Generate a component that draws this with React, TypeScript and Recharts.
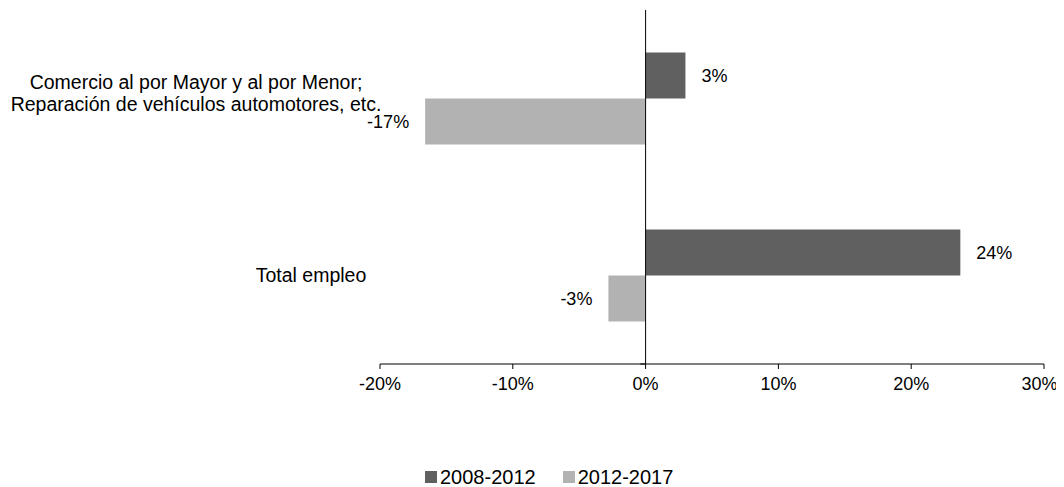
import React from 'react';
import { BarChart, Bar, XAxis, YAxis, ReferenceLine, LabelList } from 'recharts';

const categories = ['Comercio', 'Total empleo'];
const categoryLines = [
  ['Comercio al por Mayor y al por Menor;', 'Reparación de vehículos automotores, etc.'],
  ['Total empleo'],
];
const seriesNames = ['2008-2012', '2012-2017'];
const values2008_2012 = [3.0, 23.7];
const values2012_2017 = [-16.6, -2.8];
const xTicks = [-20, -10, 0, 10, 20, 30];

const COLORS = ['#606060', '#b2b2b2'];
const FONT = '"Liberation Sans", Arial, sans-serif';

const data = categories.map((c, i) => ({
  name: c,
  a: values2008_2012[i],
  b: values2012_2017[i],
}));

const labelCenters = [188, 303];
const lineOffsets = [[-10, 12], [6]];

const CatTick = (props: any) => {
  const { y, payload } = props;
  const idx = categories.indexOf(payload.value);
  const lines = categoryLines[idx] || [];
  return (
    <g>
      {lines.map((l, k) => (
        <text
          key={k}
          x={labelCenters[idx]}
          y={y + lineOffsets[idx][k]}
          textAnchor="middle"
          fontSize={19.5}
          fontFamily={FONT}
          fill="#000"
        >
          {l}
        </text>
      ))}
    </g>
  );
};

const ValueLabel = (props: any) => {
  const { x, y, width, height, value } = props;
  const left = Math.min(x, x + width);
  const right = Math.max(x, x + width);
  const neg = value < 0;
  const tx = neg ? left - 16 : right + 16;
  return (
    <text
      x={tx}
      y={y + height / 2}
      dy="0.35em"
      textAnchor={neg ? 'end' : 'start'}
      fontSize={18}
      fontFamily={FONT}
      fill="#000"
    >
      {Math.round(value)}%
    </text>
  );
};

export default function App() {
  return (
    <div style={{ position: 'relative', width: 1048, height: 479, fontFamily: FONT }}>
      <style>{`.recharts-surface { overflow: visible !important; } .recharts-wrapper { overflow: visible !important; }`}</style>
      <BarChart
        width={1048}
        height={400}
        data={data}
        layout="vertical"
        margin={{ top: 2, right: 12, bottom: 14, left: 0 }}
        barCategoryGap="24%"
        barGap={0}
      >
        <XAxis
          type="number"
          domain={[-20, 30]}
          ticks={xTicks}
          tickFormatter={(v: number) => `${v}%`}
          axisLine={{ stroke: '#000' }}
          tickLine={{ stroke: '#000' }}
          tickSize={5}
          tickMargin={8}
          height={30}
          tick={{ fill: '#000', fontSize: 18, fontFamily: FONT }}
        />
        <YAxis
          type="category"
          dataKey="name"
          width={372}
          axisLine={false}
          tickLine={false}
          tick={<CatTick />}
          interval={0}
        />
        <YAxis yAxisId="grid" type="number" domain={[0, 2]} hide />
        <Bar dataKey="a" name={seriesNames[0]} fill={COLORS[0]} isAnimationActive={false}>
          <LabelList dataKey="a" content={<ValueLabel />} />
        </Bar>
        <Bar dataKey="b" name={seriesNames[1]} fill={COLORS[1]} isAnimationActive={false}>
          <LabelList dataKey="b" content={<ValueLabel />} />
        </Bar>
        <ReferenceLine yAxisId="grid" x={0} stroke="#000" strokeWidth={1} />
        <ReferenceLine
          yAxisId="grid"
          segment={[{ x: -0.4, y: 2 }, { x: 0, y: 2 }]}
          stroke="#000"
        />
        <ReferenceLine
          yAxisId="grid"
          segment={[{ x: -0.4, y: 1 }, { x: 0, y: 1 }]}
          stroke="#000"
        />
      </BarChart>
      <div
        style={{
          position: 'absolute',
          left: 417,
          top: 459,
          display: 'flex',
          alignItems: 'center',
          fontSize: 20,
          lineHeight: '20px',
          color: '#000',
        }}
      >
        {seriesNames.map((n, i) => (
          <div key={n} style={{ display: 'flex', alignItems: 'center', marginRight: i === 0 ? 27 : 0 }}>
            <span style={{ display: 'inline-block', width: 12, height: 12, background: COLORS[i], marginRight: 3 }} />
            <span>{n}</span>
          </div>
        ))}
      </div>
    </div>
  );
}
